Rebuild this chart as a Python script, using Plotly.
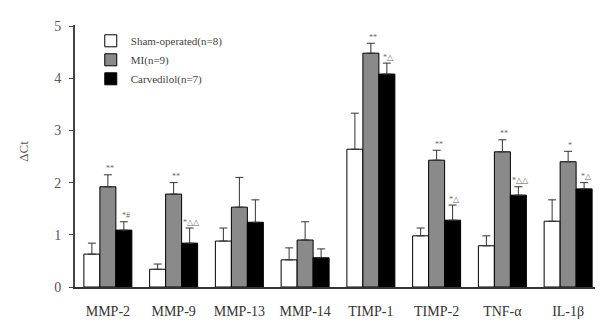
import plotly.graph_objects as go

categories = ["MMP-2", "MMP-9", "MMP-13", "MMP-14", "TIMP-1", "TIMP-2", "TNF-α", "IL-1β"]
series_names = ["Sham-operated(n=8)", "MI(n=9)", "Carvedilol(n=7)"]
sham = [0.63, 0.34, 0.88, 0.52, 2.64, 0.98, 0.79, 1.26]
sham_err = [0.21, 0.10, 0.25, 0.23, 0.69, 0.15, 0.19, 0.41]
mi = [1.92, 1.78, 1.53, 0.90, 4.48, 2.43, 2.59, 2.40]
mi_err = [0.23, 0.22, 0.57, 0.35, 0.19, 0.19, 0.23, 0.20]
carv = [1.09, 0.84, 1.24, 0.56, 4.08, 1.28, 1.76, 1.88]
carv_err = [0.16, 0.29, 0.43, 0.17, 0.21, 0.29, 0.16, 0.12]
mi_marks = ["**", "**", "", "", "**", "**", "**", "*"]
carv_marks = ["*#", "*△△", "", "", "*△", "*△", "*△△", "*△"]

values = [sham, mi, carv]
errors = [sham_err, mi_err, carv_err]
fills = ["white", "#8a8a8a", "black"]

fig = go.Figure()
for name, v, e, c in zip(series_names, values, errors, fills):
    fig.add_trace(go.Bar(
        name=name, x=categories, y=v,
        marker=dict(color=c, line=dict(color="black", width=1)),
        error_y=dict(type="data", array=e, arrayminus=[0] * len(e), symmetric=False,
                     color="#333", thickness=1, width=4),
    ))

annotations = []
for marks, v, e, shift in [(mi_marks, mi, mi_err, 0), (carv_marks, carv, carv_err, 16)]:
    for cat, m, vv, ee in zip(categories, marks, v, e):
        if m:
            annotations.append(dict(x=cat, y=vv + ee, text=m, showarrow=False,
                                    xshift=shift + 2, yshift=6,
                                    font=dict(size=8, color="#666", family="Liberation Serif")))
annotations.append(dict(x=0.0, xref="paper", xanchor="right", xshift=-42, y=2.6, yref="y",
                        text="ΔCt", textangle=-90, showarrow=False,
                        font=dict(size=13, color="#555", family="Liberation Serif")))

fig.update_layout(
    width=595, height=322,
    margin=dict(l=67, r=2, t=17, b=43, autoexpand=False),
    paper_bgcolor="white", plot_bgcolor="white",
    barmode="group", bargap=0.27, bargroupgap=0,
    font=dict(family="Liberation Serif", size=12, color="#333"),
    showlegend=True,
    legend=dict(x=0.03, y=0.995, xanchor="left", yanchor="top",
                bgcolor="rgba(0,0,0,0)", font=dict(size=11, color="#444"),
                itemwidth=30, tracegroupgap=0),
    annotations=annotations,
    xaxis=dict(range=[-0.5, 7.5], showline=True, linecolor="#333", linewidth=2,
               ticks="", showgrid=False, automargin=False, ticklabelstandoff=10,
               tickfont=dict(size=14, color="#333")),
    yaxis=dict(range=[0, 5.02], tickvals=[0, 1, 2, 3, 4, 5], showline=True,
               linecolor="#444", linewidth=2, ticks="outside", ticklen=4,
               tickcolor="#444", showgrid=False, zeroline=False, automargin=False,
               ticklabelstandoff=5,
               tickfont=dict(size=14, color="#555")),
)

fig.write_html("out.html")
